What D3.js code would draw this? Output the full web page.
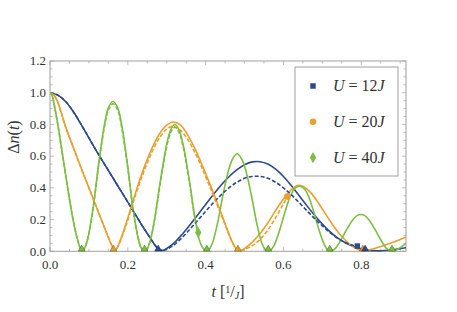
<!DOCTYPE html>
<html>
<head>
<meta charset="utf-8">
<script src="https://cdn.jsdelivr.net/npm/d3@7"></script>
<style>
  body { margin: 0; background: #fff; }
</style>
</head>
<body>
<div id="chart"></div>
<script>
// values: [t, Δn]
const blueSolid = [[0,1],[0.02,0.985],[0.04,0.945],[0.06,0.88],[0.08,0.8],[0.10,0.715],[0.12,0.63],[0.14,0.55],[0.16,0.47],[0.18,0.39],[0.20,0.31],[0.22,0.23],[0.24,0.15],[0.26,0.075],[0.27,0.038],[0.28,0.012],[0.29,0.006],[0.30,0.018],[0.32,0.055],[0.34,0.108],[0.36,0.168],[0.38,0.23],[0.40,0.295],[0.42,0.358],[0.44,0.418],[0.46,0.47],[0.48,0.513],[0.50,0.546],[0.52,0.564],[0.54,0.565],[0.56,0.55],[0.58,0.518],[0.60,0.472],[0.62,0.415],[0.64,0.352],[0.66,0.288],[0.68,0.228],[0.70,0.172],[0.72,0.123],[0.74,0.083],[0.76,0.052],[0.78,0.03],[0.80,0.015],[0.82,0.006],[0.84,0.003],[0.86,0.005],[0.88,0.01],[0.90,0.017],[0.915,0.022]];
const blueDashed = [[0,1],[0.02,0.985],[0.04,0.945],[0.06,0.88],[0.08,0.8],[0.10,0.715],[0.12,0.63],[0.14,0.55],[0.16,0.47],[0.18,0.39],[0.20,0.31],[0.22,0.23],[0.24,0.15],[0.26,0.075],[0.27,0.038],[0.28,0.012],[0.29,0.005],[0.30,0.013],[0.32,0.042],[0.34,0.088],[0.36,0.14],[0.38,0.196],[0.40,0.252],[0.42,0.306],[0.44,0.356],[0.46,0.4],[0.48,0.435],[0.50,0.46],[0.52,0.472],[0.54,0.472],[0.56,0.46],[0.58,0.435],[0.60,0.4],[0.62,0.357],[0.64,0.308],[0.66,0.257],[0.68,0.207],[0.70,0.16],[0.72,0.117],[0.74,0.081],[0.76,0.054],[0.78,0.036],[0.79,0.03]];

const orangeSolid = [[0,1],[0.01,0.985],[0.02,0.94],[0.03,0.865],[0.04,0.785],[0.06,0.655],[0.08,0.525],[0.10,0.4],[0.12,0.275],[0.14,0.15],[0.15,0.088],[0.16,0.03],[0.165,0.01],[0.17,0.014],[0.18,0.065],[0.19,0.135],[0.20,0.21],[0.22,0.37],[0.24,0.515],[0.26,0.638],[0.28,0.735],[0.30,0.795],[0.317,0.815],[0.335,0.797],[0.35,0.75],[0.37,0.66],[0.39,0.55],[0.41,0.43],[0.43,0.305],[0.45,0.175],[0.46,0.11],[0.47,0.05],[0.478,0.018],[0.485,0.005],[0.492,0.006],[0.50,0.018],[0.52,0.058],[0.54,0.112],[0.56,0.18],[0.58,0.258],[0.60,0.33],[0.62,0.388],[0.635,0.415],[0.65,0.41],[0.67,0.37],[0.69,0.305],[0.71,0.228],[0.73,0.155],[0.75,0.093],[0.77,0.045],[0.79,0.013],[0.805,0.003],[0.82,0.008],[0.84,0.022],[0.86,0.038],[0.88,0.055],[0.90,0.075],[0.915,0.09]];
const orangeDashed = [[0,1],[0.01,0.985],[0.02,0.94],[0.03,0.865],[0.04,0.785],[0.06,0.655],[0.08,0.525],[0.10,0.4],[0.12,0.275],[0.14,0.15],[0.15,0.088],[0.16,0.03],[0.165,0.01],[0.17,0.013],[0.18,0.06],[0.19,0.125],[0.20,0.198],[0.22,0.355],[0.24,0.495],[0.26,0.615],[0.28,0.71],[0.30,0.77],[0.315,0.788],[0.33,0.772],[0.35,0.72],[0.37,0.635],[0.39,0.53],[0.41,0.412],[0.43,0.29],[0.45,0.167],[0.46,0.105],[0.47,0.048],[0.478,0.017],[0.485,0.004],[0.492,0.004],[0.50,0.012],[0.52,0.036],[0.54,0.076],[0.56,0.135],[0.58,0.212],[0.60,0.3],[0.61,0.345]];

const greenSolid = [[0,1],[0.005,0.985],[0.01,0.935],[0.02,0.8],[0.03,0.645],[0.04,0.485],[0.05,0.33],[0.06,0.19],[0.07,0.08],[0.076,0.032],[0.082,0.004],[0.089,0.02],[0.097,0.08],[0.11,0.26],[0.125,0.55],[0.14,0.8],[0.15,0.905],[0.162,0.945],[0.174,0.905],[0.184,0.8],[0.199,0.55],[0.214,0.26],[0.227,0.08],[0.235,0.02],[0.243,0.004],[0.25,0.018],[0.258,0.07],[0.27,0.22],[0.285,0.465],[0.30,0.675],[0.31,0.765],[0.321,0.8],[0.332,0.765],[0.342,0.675],[0.357,0.465],[0.372,0.22],[0.384,0.07],[0.394,0.018],[0.403,0.004],[0.41,0.015],[0.418,0.055],[0.43,0.17],[0.445,0.36],[0.46,0.52],[0.47,0.585],[0.481,0.615],[0.492,0.585],[0.502,0.52],[0.517,0.36],[0.532,0.17],[0.544,0.055],[0.552,0.015],[0.561,0.003],[0.568,0.01],[0.576,0.037],[0.588,0.115],[0.603,0.24],[0.618,0.35],[0.63,0.398],[0.641,0.41],[0.652,0.398],[0.664,0.35],[0.679,0.24],[0.694,0.115],[0.706,0.037],[0.713,0.01],[0.719,0.002],[0.726,0.006],[0.734,0.02],[0.746,0.065],[0.762,0.135],[0.778,0.198],[0.789,0.225],[0.799,0.232],[0.809,0.225],[0.82,0.198],[0.836,0.135],[0.852,0.065],[0.864,0.02],[0.872,0.006],[0.879,0.002],[0.886,0.004],[0.895,0.015],[0.905,0.032],[0.915,0.05]];
const greenDashed = [[0,1],[0.005,0.985],[0.01,0.935],[0.02,0.8],[0.03,0.645],[0.04,0.485],[0.05,0.33],[0.06,0.19],[0.07,0.08],[0.076,0.032],[0.082,0.004],[0.089,0.019],[0.097,0.078],[0.11,0.255],[0.125,0.54],[0.14,0.785],[0.15,0.89],[0.162,0.93],[0.174,0.89],[0.184,0.785],[0.199,0.54],[0.214,0.255],[0.227,0.078],[0.235,0.019],[0.243,0.004],[0.25,0.017],[0.258,0.068],[0.27,0.215],[0.285,0.455],[0.30,0.66],[0.31,0.748],[0.321,0.782],[0.332,0.748],[0.342,0.66],[0.357,0.455],[0.372,0.215],[0.381,0.118]];

const seriesNames = ["U = 12J", "U = 20J", "U = 40J"];
const seriesColors = ["#2c4a8d", "#e8a02e", "#7cbf42"];
const endMarkers = [[0.79, 0.033], [0.61, 0.345], [0.381, 0.118]];
const zerosBlue = [0.278, 0.81];
const zerosOrange = [0.163, 0.483, 0.804];
const zerosGreen = [0.0815, 0.243, 0.403, 0.561, 0.719, 0.879];
const xTicks = [0, 0.2, 0.4, 0.6, 0.8];
const yTicks = [0, 0.2, 0.4, 0.6, 0.8, 1.0, 1.2];

const font = "'Liberation Serif', 'DejaVu Serif', serif";
const width = 457, height = 312;
const margin = {left: 50, right: 51, top: 61, bottom: 61};

const svg = d3.select("#chart").append("svg")
  .attr("width", width).attr("height", height)
  .attr("font-family", font);

const x = d3.scaleLinear().domain([0, 0.915]).range([margin.left, width - margin.right]);
const y = d3.scaleLinear().domain([0, 1.2]).range([height - margin.bottom + 0.3, margin.top]);

// frame and ticks
const frameColor = "#a0a0a0";
const gAxes = svg.append("g");
gAxes.append("rect")
  .attr("x", x(0)).attr("y", y(1.2))
  .attr("width", x(0.915) - x(0)).attr("height", y(0) - y(1.2))
  .attr("fill", "none").attr("stroke", frameColor).attr("stroke-width", 1);

const xMinor = d3.range(0, 0.92, 0.05);
const yMinor = d3.range(0, 1.21, 0.05);
const isMajor = v => Math.abs(v * 5 - Math.round(v * 5)) < 1e-6;

xMinor.forEach(v => {
  const len = isMajor(v) ? 4 : 2.5;
  gAxes.append("line").attr("x1", x(v)).attr("x2", x(v)).attr("y1", y(0)).attr("y2", y(0) - len)
    .attr("stroke", frameColor).attr("stroke-width", 0.7);
  gAxes.append("line").attr("x1", x(v)).attr("x2", x(v)).attr("y1", y(1.2)).attr("y2", y(1.2) + len)
    .attr("stroke", frameColor).attr("stroke-width", 0.7);
});
yMinor.forEach(v => {
  const len = isMajor(v) ? 4 : 2.5;
  gAxes.append("line").attr("x1", x(0)).attr("x2", x(0) + len).attr("y1", y(v)).attr("y2", y(v))
    .attr("stroke", frameColor).attr("stroke-width", 0.7);
  gAxes.append("line").attr("x1", x(0.915)).attr("x2", x(0.915) - len).attr("y1", y(v)).attr("y2", y(v))
    .attr("stroke", frameColor).attr("stroke-width", 0.7);
});

gAxes.selectAll(".xt").data(xTicks).enter().append("text")
  .attr("x", d => x(d)).attr("y", y(0) + 18)
  .attr("text-anchor", "middle").attr("font-size", 13).attr("fill", "#333")
  .text(d => d.toFixed(1));
gAxes.selectAll(".yt").data(yTicks).enter().append("text")
  .attr("x", x(0) - 4).attr("y", d => y(d) + 4.3)
  .attr("text-anchor", "end").attr("font-size", 13).attr("fill", "#333")
  .text(d => d.toFixed(1));

// axis labels
const yl = svg.append("text")
  .attr("transform", `translate(19, 137) rotate(-90)`)
  .attr("text-anchor", "middle").attr("font-size", 16).attr("fill", "#333");
yl.append("tspan").text("Δ");
yl.append("tspan").attr("font-style", "italic").text("n");
yl.append("tspan").text("(");
yl.append("tspan").attr("font-style", "italic").text("t");
yl.append("tspan").text(")");

const xl = svg.append("text")
  .attr("x", 228).attr("y", 297)
  .attr("text-anchor", "middle").attr("font-size", 16).attr("fill", "#333");
xl.append("tspan").attr("font-style", "italic").text("t");
xl.append("tspan").text(" [");
xl.append("tspan").attr("font-size", 10).attr("dy", -4).text("1");
xl.append("tspan").attr("dy", 4).text("/");
xl.append("tspan").attr("font-size", 10).attr("font-style", "italic").attr("dy", 2).text("J");
xl.append("tspan").attr("dy", -2).text("]");

// curves
svg.append("clipPath").attr("id", "clip").append("rect")
  .attr("x", x(0)).attr("y", y(1.2) - 2).attr("width", x(0.915) - x(0)).attr("height", y(0) - y(1.2) + 4);
const plot = svg.append("g").attr("clip-path", "url(#clip)");

const line = d3.line().x(d => x(d[0])).y(d => y(d[1])).curve(d3.curveCatmullRom.alpha(0.5));

const curves = [
  {data: blueSolid, c: 0, dash: null},
  {data: orangeSolid, c: 1, dash: null},
  {data: greenSolid, c: 2, dash: null},
  {data: blueDashed, c: 0, dash: "4,2"},
  {data: orangeDashed, c: 1, dash: "4,2"},
  {data: greenDashed, c: 2, dash: "4,2"}
];
curves.forEach(s => {
  plot.append("path")
    .attr("d", line(s.data))
    .attr("fill", "none")
    .attr("stroke", seriesColors[s.c])
    .attr("stroke-width", 1.6)
    .attr("stroke-dasharray", s.dash);
});

// triangles at zeros
const tri = d3.symbol().type(d3.symbolTriangle).size(20);
const zeroSets = [[zerosGreen, 2], [zerosOrange, 1], [zerosBlue, 0]];
zeroSets.forEach(([zs, c]) => {
  svg.selectAll(null).data(zs).enter().append("path")
    .attr("d", tri)
    .attr("transform", d => `translate(${x(d)},${y(0) - 2.2})`)
    .attr("fill", seriesColors[c])
    .attr("stroke", d3.color(seriesColors[c]).darker(1.5))
    .attr("stroke-width", 0.6);
});

// end markers
const symbols = [d3.symbolSquare, d3.symbolPentagon || d3.symbolCircle, d3.symbolDiamond];
const sizes = [30, 34, 36];
endMarkers.forEach((m, i) => {
  svg.append("path")
    .attr("d", d3.symbol().type(symbols[i]).size(sizes[i]))
    .attr("transform", `translate(${x(m[0])},${y(m[1])})`)
    .attr("fill", seriesColors[i]);
});

// legend
const lg = svg.append("g");
lg.append("rect").attr("x", 295).attr("y", 67).attr("width", 103).attr("height", 109)
  .attr("fill", "#fff").attr("stroke", frameColor).attr("stroke-width", 1);
seriesNames.forEach((name, i) => {
  const yy = 86 + i * 35.8;
  lg.append("path")
    .attr("d", d3.symbol().type(symbols[i]).size(sizes[i]))
    .attr("transform", `translate(313,${yy})`)
    .attr("fill", seriesColors[i]);
  const parts = name.split(" ");
  const t = lg.append("text").attr("x", 333).attr("y", yy + 5).attr("font-size", 16).attr("fill", "#333");
  t.append("tspan").attr("font-style", "italic").text("U");
  t.append("tspan").text(" = " + parts[2].replace("J", ""));
  t.append("tspan").attr("font-style", "italic").text("J");
});
</script>
</body>
</html>
